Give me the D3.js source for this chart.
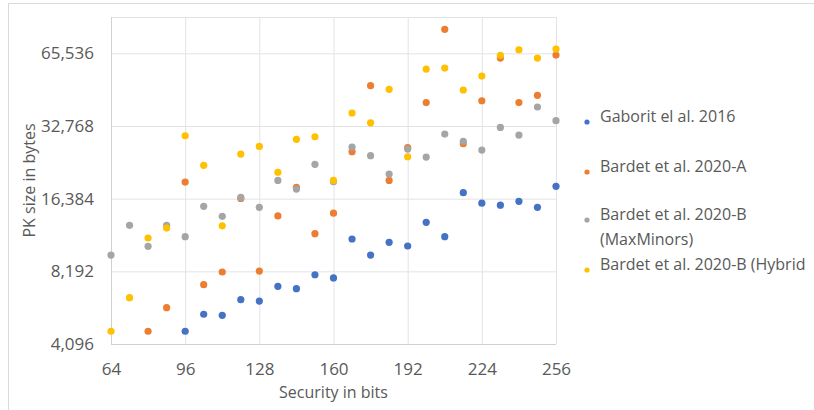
<!DOCTYPE html>
<html>
<head>
<meta charset="utf-8">
<script src="https://cdn.jsdelivr.net/npm/d3@7"></script>
<style>
    html, body { margin: 0; padding: 0; background: #fff; }
    #chart text { font-family: "Open Sans", Lato, sans-serif; fill: #595959; }
</style>
</head>
<body>
<div id="chart"></div>
<script>
var xTicks = [64, 96, 128, 160, 192, 224, 256];
var yTicks = [4096, 8192, 16384, 32768, 65536];

var seriesNames = [
    'Gaborit el al. 2016',
    'Bardet et al. 2020-A',
    'Bardet et al. 2020-B (MaxMinors)',
    'Bardet et al. 2020-B (Hybrid'
];

var gaboritX = [96, 104, 112, 120, 128, 136, 144, 152, 160, 168, 176, 184, 192, 200, 208, 216, 224, 232, 240, 248, 256];
var gaboritY = [4625, 5440, 5385, 6250, 6170, 7100, 6940, 7930, 7690, 11150, 9570, 10800, 10430, 13070, 11400, 17350, 15700, 15400, 15970, 15080, 18430];

var bardetAX = [80, 88, 96, 104, 112, 120, 128, 136, 144, 152, 160, 168, 176, 184, 192, 200, 208, 216, 224, 232, 240, 248, 256];
var bardetAY = [4625, 5790, 19200, 7210, 8140, 16420, 8210, 13900, 18260, 11730, 14260, 25650, 48130, 19500, 26650, 40980, 82400, 27660, 41700, 62620, 40980, 43900, 64430];

var maxMinorsX = [64, 72, 80, 88, 96, 104, 112, 120, 128, 136, 144, 152, 160, 168, 176, 184, 192, 200, 208, 216, 224, 232, 240, 248, 256];
var maxMinorsY = [9570, 12700, 10400, 12700, 11400, 15230, 13840, 16580, 15080, 19500, 17960, 22730, 19250, 26810, 24680, 20720, 26290, 24370, 30350, 28300, 26050, 32340, 30060, 39270, 34470];

var hybridX = [64, 72, 80, 88, 96, 104, 112, 120, 128, 136, 144, 152, 160, 168, 176, 184, 192, 200, 208, 216, 224, 232, 240, 248, 256];
var hybridY = [4625, 6370, 11260, 12380, 29860, 22520, 12650, 25080, 26970, 21080, 28850, 29570, 19500, 37100, 33780, 46490, 24440, 56400, 56950, 46200, 52760, 64300, 67800, 62620, 68300];

var width = 814,
    height = 410,
    margin = { left: 111, right: 258, top: 17, bottom: 66 },
    colors = ['#4472C4', '#ED7D31', '#A5A5A5', '#FFC000']
;

var series = [
    { name: seriesNames[0], xs: gaboritX, ys: gaboritY },
    { name: seriesNames[1], xs: bardetAX, ys: bardetAY },
    { name: seriesNames[2], xs: maxMinorsX, ys: maxMinorsY },
    { name: seriesNames[3], xs: hybridX, ys: hybridY }
];

var svg = d3
    .select('#chart')
    .append('svg')
    .attr('width', width)
    .attr('height', height)
;

// chart frame (only top and left edges show)
svg.append('path')
    .attr('d', 'M8.5,' + height + 'V3.5H' + width)
    .attr('fill', 'none')
    .attr('stroke', '#d9d9d9')
;

var x = d3.scaleLinear()
    .domain([64, 256])
    .range([margin.left, width - margin.right])
;

var y = d3.scaleLog()
    .base(2)
    .domain([4096, Math.pow(2, 16.5)])
    .range([height - margin.bottom, margin.top])
;

var grid = svg.append('g').attr('class', 'grid');

grid.append('g')
    .attr('transform', 'translate(0,' + (height - margin.bottom) + ')')
    .call(d3.axisBottom(x).tickValues(xTicks).tickSize(-(height - margin.bottom - margin.top)).tickFormat(''))
;

grid.append('g')
    .attr('transform', 'translate(' + margin.left + ',0)')
    .call(d3.axisLeft(y).tickValues(yTicks).tickSize(-(width - margin.left - margin.right)).tickFormat(''))
;

grid.selectAll('line').attr('stroke', '#e3e3e3');
grid.selectAll('.domain').remove();

// top edge of plot area
svg.append('line')
    .attr('x1', x(64)).attr('x2', x(256))
    .attr('y1', y.range()[1] + 0.5).attr('y2', y.range()[1] + 0.5)
    .attr('stroke', '#e3e3e3')
;

// axis lines
svg.append('line')
    .attr('x1', x(64) + 0.5).attr('x2', x(64) + 0.5)
    .attr('y1', y.range()[1]).attr('y2', y.range()[0])
    .attr('stroke', '#d0d0d0')
;
svg.append('line')
    .attr('x1', x(64)).attr('x2', x(256))
    .attr('y1', y.range()[0] + 0.5).attr('y2', y.range()[0] + 0.5)
    .attr('stroke', '#d0d0d0')
;

// tick labels
var xAxis = svg.append('g')
    .attr('transform', 'translate(0,' + (height - margin.bottom) + ')')
    .call(d3.axisBottom(x).tickValues(xTicks).tickSize(0).tickPadding(19))
;
var yAxis = svg.append('g')
    .attr('transform', 'translate(' + margin.left + ',0)')
    .call(d3.axisLeft(y).tickValues(yTicks).tickSize(0).tickPadding(17).tickFormat(d3.format(',')))
;
xAxis.select('.domain').remove();
yAxis.select('.domain').remove();
svg.selectAll('.tick text')
    .attr('font-size', 17)
    .attr('font-family', null)
;

// axis titles
svg.append('text')
    .attr('x', (x(64) + x(256)) / 2)
    .attr('y', 398)
    .attr('text-anchor', 'middle')
    .attr('font-size', 16)
    .text('Security in bits')
;
svg.append('text')
    .attr('transform', 'translate(35,' + (y.range()[0] + y.range()[1]) / 2 + ') rotate(-90)')
    .attr('text-anchor', 'middle')
    .attr('font-size', 16)
    .text('PK size in bytes')
;

// points
series.forEach(function(s, i) {
    svg.append('g')
        .selectAll('circle')
        .data(d3.zip(s.xs, s.ys))
        .enter()
        .append('circle')
        .attr('cx', function(d) { return x(d[0]); })
        .attr('cy', function(d) { return y(d[1]); })
        .attr('r', 3.6)
        .attr('fill', colors[i])
    ;
});

// legend
var legendItems = [
    { lines: ['Gaborit el al. 2016'], y: 122 },
    { lines: ['Bardet et al. 2020-A'], y: 172 },
    { lines: ['Bardet et al. 2020-B', '(MaxMinors)'], y: 220 },
    { lines: ['Bardet et al. 2020-B (Hybrid'], y: 270 }
];

var legend = svg.append('g')
    .selectAll('g')
    .data(legendItems)
    .enter()
    .append('g')
    .attr('transform', function(d) { return 'translate(587,' + d.y + ')'; })
;
legend.append('circle')
    .attr('r', 2.6)
    .attr('fill', function(d, i) { return colors[i]; })
;
legend.append('text')
    .attr('x', 13)
    .attr('dy', '0.35em')
    .attr('font-size', 16)
    .selectAll('tspan')
    .data(function(d) { return d.lines; })
    .enter()
    .append('tspan')
    .attr('x', 13)
    .attr('dy', function(d, i) { return i === 0 ? 0 : 25; })
    .text(function(d) { return d; })
;
</script>
</body>
</html>
